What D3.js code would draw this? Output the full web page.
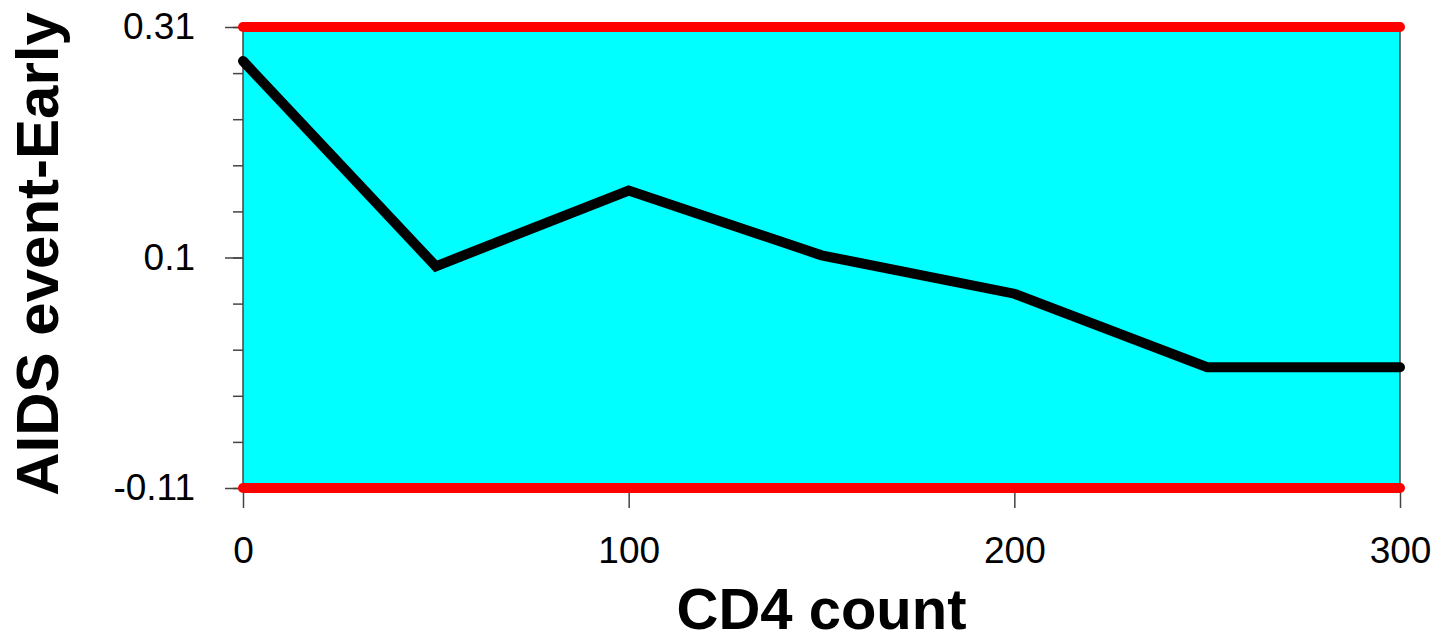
<!DOCTYPE html>
<html>
<head>
<meta charset="utf-8">
<script src="https://cdn.jsdelivr.net/npm/d3@7"></script>
<style>
  body { margin: 0; background: #fff; }
  svg { display: block; font-family: Arial, "Liberation Sans", sans-serif; }
</style>
</head>
<body>
<svg id="chart" width="1451" height="636"></svg>
<script>
// data
var cd4 = [0, 50, 100, 150, 200, 250, 300];
var aidsEarly = [0.279, 0.092, 0.161, 0.102, 0.067, 0.0, 0.0];
var xTicks = [0, 100, 200, 300];
var yMajor = [-0.11, 0.1, 0.31];
var yLimits = [-0.11, 0.31]; // red reference lines

var svg = d3.select("#chart");
// note: "top" is taken by window.top, so use plot* names
var plotLeft = 243, plotRight = 1400, plotTop = 27, plotBottom = 488;

var x = d3.scaleLinear().domain([0, 300]).range([plotLeft, plotRight]);
var y = d3.scaleLinear().domain([-0.11, 0.31]).range([plotBottom, plotTop]);

// minor ticks: 10 equal steps between the limits
var yMinor = d3.range(11).map(function(i) { return -0.11 + i * 0.042; });

// plot background
svg.append("rect")
  .attr("x", x(0)).attr("y", y(0.31))
  .attr("width", x(300) - x(0)).attr("height", y(-0.11) - y(0.31))
  .attr("fill", "#00ffff");

// side borders
svg.append("line").attr("x1", x(0)).attr("x2", x(0)).attr("y1", y(0.31)).attr("y2", y(-0.11))
  .attr("stroke", "#444").attr("stroke-width", 1.5);
svg.append("line").attr("x1", x(300)).attr("x2", x(300)).attr("y1", y(0.31)).attr("y2", y(-0.11))
  .attr("stroke", "#444").attr("stroke-width", 1.5);

// y axis minor ticks
var gMinor = svg.append("g").attr("transform", "translate(" + plotLeft + ",0)")
  .call(d3.axisLeft(y).tickValues(yMinor).tickSize(10).tickFormat(""));
gMinor.select(".domain").remove();

// y axis major ticks + labels
var gy = svg.append("g").attr("transform", "translate(" + plotLeft + ",0)")
  .call(d3.axisLeft(y).tickValues(yMajor).tickSize(18).tickPadding(30)
    .tickFormat(function(d) { return String(d); }));
gy.select(".domain").remove();
gy.selectAll("text").attr("font-size", 37).attr("font-family", "Arial, 'Liberation Sans', sans-serif").attr("fill", "#000");
svg.selectAll(".tick line").attr("stroke", "#444").attr("stroke-width", 1.5);

// x axis
var gx = svg.append("g").attr("transform", "translate(0," + plotBottom + ")")
  .call(d3.axisBottom(x).tickValues(xTicks).tickSize(20).tickPadding(29));
gx.select(".domain").remove();
gx.selectAll(".tick line").attr("stroke", "#444").attr("stroke-width", 1.5);
gx.selectAll("text").attr("font-size", 37).attr("font-family", "Arial, 'Liberation Sans', sans-serif").attr("fill", "#000");

// red limit lines
svg.selectAll(".limit").data(yLimits).enter().append("line")
  .attr("class", "limit")
  .attr("x1", x(0)).attr("x2", x(300))
  .attr("y1", function(d) { return y(d); }).attr("y2", function(d) { return y(d); })
  .attr("stroke", "#ff0000").attr("stroke-width", 10).attr("stroke-linecap", "round");

// series line
var pts = cd4.map(function(c, i) { return [c, aidsEarly[i]]; });
svg.append("path")
  .datum(pts)
  .attr("d", d3.line().x(function(d) { return x(d[0]); }).y(function(d) { return y(d[1]); }))
  .attr("fill", "none").attr("stroke", "#000").attr("stroke-width", 10)
  .attr("stroke-linecap", "round").attr("stroke-linejoin", "miter");

// axis titles
svg.append("text")
  .attr("x", (plotLeft + plotRight) / 2).attr("y", 629)
  .attr("text-anchor", "middle").attr("font-size", 58).attr("font-weight", "bold")
  .text("CD4 count");

svg.append("text")
  .attr("transform", "translate(58," + 254 + ") rotate(-90)")
  .attr("text-anchor", "middle").attr("font-size", 60).attr("font-weight", "bold")
  .text("AIDS event-Early");
</script>
</body>
</html>
